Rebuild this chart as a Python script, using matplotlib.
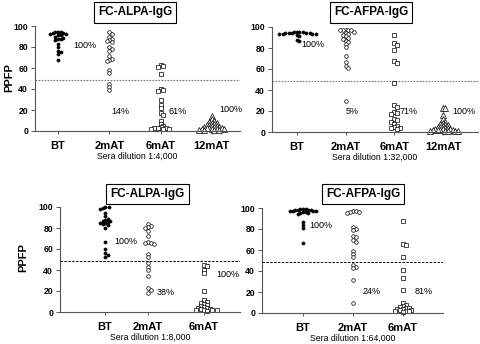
import numpy as np
import matplotlib
matplotlib.use('Agg')
import matplotlib.pyplot as plt

plt.rcParams['font.family'] = ['Liberation Sans', 'DejaVu Sans']

# ---- data (PPFP values) ----
cats_4 = ['BT', '2mAT', '6mAT', '12mAT']
cats_3 = ['BT', '2mAT', '6mAT']

alpa_4k_bt = [94, 94, 94, 93, 93, 92, 92, 91, 91, 90, 89, 88, 88, 87, 83, 80, 76, 75, 73, 68]
alpa_4k_2m = [94, 92, 90, 88, 87, 86, 85, 80, 78, 76, 71, 69, 68, 67, 58, 55, 45, 42, 39]
alpa_4k_6m = [63, 62, 61, 54, 40, 39, 38, 30, 25, 22, 17, 15, 10, 7, 5, 4, 3, 3, 3, 2, 2, 2]
alpa_4k_12m = [14, 11, 10, 9, 8, 8, 7, 6, 6, 5, 5, 4, 4, 4, 3, 3, 3, 2, 2, 2, 2, 1, 1, 1, 1]

afpa_32k_bt = [95, 95, 95, 95, 94, 94, 94, 94, 94, 93, 93, 93, 93, 92, 91, 88, 87]
afpa_32k_2m = [97, 97, 97, 97, 97, 95, 94, 93, 92, 91, 90, 89, 87, 86, 84, 81, 72, 67, 63, 61, 30]
afpa_32k_6m = [92, 85, 83, 78, 68, 66, 47, 26, 24, 19, 18, 17, 12, 11, 10, 8, 6, 5, 4, 4, 3]
afpa_32k_12m = [23, 23, 16, 12, 10, 9, 8, 7, 7, 6, 5, 5, 4, 4, 3, 3, 3, 2, 2, 2, 2, 1, 1, 1, 1, 1]

alpa_8k_bt = [100, 100, 99, 98, 94, 91, 89, 88, 87, 87, 86, 85, 85, 84, 83, 80, 67, 60, 56, 54, 52]
alpa_8k_2m = [84, 82, 81, 80, 77, 72, 67, 66, 66, 65, 55, 52, 47, 43, 40, 34, 23, 21, 18]
alpa_8k_6m = [45, 44, 40, 37, 20, 11, 10, 9, 8, 7, 6, 5, 4, 4, 3, 3, 2, 2, 2, 2, 1]

afpa_64k_bt = [99, 99, 99, 98, 98, 98, 98, 97, 97, 97, 97, 96, 96, 95, 95, 94, 87, 84, 81, 67]
afpa_64k_2m = [97, 97, 96, 96, 95, 82, 80, 79, 73, 72, 70, 68, 59, 56, 53, 46, 44, 43, 31, 10]
afpa_64k_6m = [88, 66, 65, 53, 41, 33, 22, 10, 8, 7, 6, 5, 5, 4, 4, 3, 3, 2, 2, 2, 1]

pct_4k = ['100%', '14%', '61%', '100%']
pct_32k = ['100%', '5%', '71%', '100%']
pct_8k = ['100%', '38%', '100%']
pct_64k = ['100%', '24%', '81%']

W, H = 480, 344
fig = plt.figure(figsize=(W / 100, H / 100), dpi=100)

styles = [dict(marker='o', ms=2.3, mfc='black', mec='black', mew=0.4),
          dict(marker='o', ms=2.6, mfc='white', mec='black', mew=0.5),
          dict(marker='s', ms=2.6, mfc='white', mec='black', mew=0.5),
          dict(marker='^', ms=3.8, mfc='white', mec='black', mew=0.5)]
gaps = [2.6, 2.8, 2.8, 2.5]


def swarm(ax, xc, vals, d):
    """simple beeswarm: push points sideways until they don't overlap (pixel space)"""
    placed = []
    out = []
    x0 = ax.transData.transform((xc, 0))[0]
    for v in sorted(vals, reverse=True):
        py = ax.transData.transform((xc, v))[1]
        k = 0
        while True:
            shifts = [0] if k == 0 else [k, -k]
            ok = None
            for s in shifts:
                px = x0 + s * d * 0.5
                if all((px - qx) ** 2 + (py - qy) ** 2 >= d * d for qx, qy in placed):
                    ok = px
                    break
            if ok is not None:
                break
            k += 1
        placed.append((ok, py))
        out.append(ax.transData.inverted().transform((ok, py)))
    return np.array(out)


def panel(box, xlim, xpos, cats, groups, pcts, pct_xy, title, title_xy, dil,
          dash, ylabel=None):
    L, R, y0, y100 = box
    ax = fig.add_axes([L / W, (H - y0) / H, (R - L) / W, (y0 - y100) / H])
    ax.set_xlim(*xlim)
    ax.set_ylim(0, 100)
    for sp in ['top', 'right']:
        ax.spines[sp].set_visible(False)
    for sp in ['left', 'bottom']:
        ax.spines[sp].set_color('#555555')
        ax.spines[sp].set_linewidth(0.8)
    ax.set_yticks(range(0, 101, 20))
    ax.set_xticks(xpos)
    ax.set_xticklabels(cats, fontsize=8, fontweight='bold')
    ax.tick_params(axis='y', direction='out', length=3, width=0.7, pad=2,
                   labelsize=6.2, colors='#555555', labelcolor='black')
    ax.tick_params(axis='x', direction='out', length=2, width=0.7, pad=5,
                   colors='#555555', labelcolor='black')
    for t in ax.get_yticklabels():
        t.set_fontweight('bold')
    ax.set_xlabel(dil, fontsize=6.3, labelpad=1)
    ax.axhline(49, **dash)
    for i, vals in enumerate(groups):
        pts = swarm(ax, xpos[i], vals, gaps[i])
        ax.plot(pts[:, 0], pts[:, 1], ls='none', clip_on=False, **styles[i])
    for (px, py), s in zip(pct_xy, pcts):
        ax.text(px, py, s, fontsize=6.5, ha='left', va='center')
    fig.text(title_xy[0] / W, 1 - title_xy[1] / H, title, fontsize=8.5,
             fontweight='bold', ha='center', va='center',
             bbox=dict(boxstyle='square,pad=0.35', fc='white', ec='black', lw=0.8))
    if ylabel:
        fig.text(ylabel[0] / W, 1 - ylabel[1] / H, 'PPFP', rotation=90,
                 fontsize=8, fontweight='bold', ha='center', va='center')
    return ax


dot_grey = dict(color='#777777', lw=0.8, ls=(0, (1.5, 1.2)))
dash_blk = dict(color='black', lw=0.7, ls=(0, (2.5, 1.5)))

panel((35, 240, 131, 26), (-0.45, 3.55), [0, 1, 2, 3], cats_4,
      [alpa_4k_bt, alpa_4k_2m, alpa_4k_6m, alpa_4k_12m], pct_4k,
      [(0.3, 81), (1.04, 19), (2.15, 19), (3.15, 20)],
      'FC-ALPA-IgG', (135, 12.5), 'Sera dilution 1:4,000', dot_grey, ylabel=(9, 78))

panel((272, 478, 132, 27), (-0.51, 3.72), [0, 1, 2, 3], cats_4,
      [afpa_32k_bt, afpa_32k_2m, afpa_32k_6m, afpa_32k_12m], pct_32k,
      [(0.1, 83), (1.0, 20), (2.1, 20), (3.2, 20)],
      'FC-AFPA-IgG', (371, 12.5), 'Sera dilution 1:32,000', dot_grey)

panel((60, 240, 312, 207), (-1.05, 3.14), [0, 1, 2.3], cats_3,
      [alpa_8k_bt, alpa_8k_2m, alpa_8k_6m], pct_8k,
      [(0.22, 67), (1.2, 19), (2.6, 36)],
      'FC-ALPA-IgG', (147.5, 194), 'Sera dilution 1:8,000', dash_blk, ylabel=(23, 258))

panel((262, 443, 313, 208), (-0.82, 2.8), [0, 1, 2], cats_3,
      [afpa_64k_bt, afpa_64k_2m, afpa_64k_6m], pct_64k,
      [(0.12, 83), (1.2, 20), (2.24, 20)],
      'FC-AFPA-IgG', (363, 194), 'Sera dilution 1:64,000', dash_blk)

fig.savefig('out.png', dpi=100)
